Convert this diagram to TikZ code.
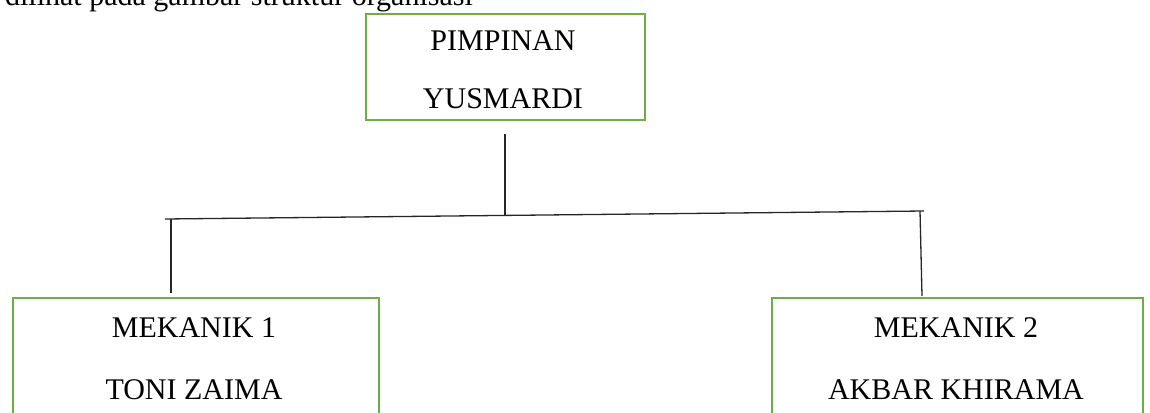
\documentclass[tikz,border=0pt]{standalone}
\usepackage{fontspec}
\setmainfont{Liberation Serif}
\definecolor{boxgreen}{HTML}{70AD47}
\begin{document}
\begin{tikzpicture}[x=1pt,y=-1pt,
  orgbox/.style={draw=boxgreen,line width=2.2pt,rectangle,inner sep=0pt,anchor=north west},
  lbl/.style={inner sep=0pt,anchor=base,font=\fontsize{30}{36}\selectfont},
  conn/.style={draw=black!85,line width=1.3pt}]
\clip (0,0) rectangle (1150,412);
\useasboundingbox (0,0) rectangle (1150,412);
% partially visible sentence at the top
\node[inner sep=0pt,anchor=base east,font=\fontsize{30}{36}\selectfont] (intro) at (473,6) {dilihat pada gambar struktur organisasi};
% boxes
\node[orgbox,minimum width=279pt,minimum height=106pt] (top) at (365,13) {};
\node[orgbox,minimum width=366pt,minimum height=160pt] (m1) at (12,297) {};
\node[orgbox,minimum width=371pt,minimum height=160pt] (m2) at (771,297) {};
% texts
\node[lbl] (topa) at (503,51) {PIMPINAN};
\node[lbl] (topb) at (503,108) {YUSMARDI};
\node[lbl] (m1a) at (194,337) {MEKANIK 1};
\node[lbl] (m1b) at (194,399) {TONI ZAIMA};
\node[lbl] (m2a) at (956,337) {MEKANIK 2};
\node[lbl] (m2b) at (956,399) {AKBAR KHIRAMA};
% connector points
\coordinate (t1) at (505,134);
\coordinate (j1) at (505,215.4);
\coordinate (hl) at (165,219);
\coordinate (hr) at (924,211);
\coordinate (l1) at (171,218.9);
\coordinate (l2) at (171,293);
\coordinate (r1) at (920,211.1);
\coordinate (r2) at (922,296);
% connectors
\draw[conn] (t1) -- (j1);
\draw[conn] (hl) -- (hr);
\draw[conn] (l1) -- (l2);
\draw[conn] (r1) -- (r2);
\end{tikzpicture}
\end{document}
